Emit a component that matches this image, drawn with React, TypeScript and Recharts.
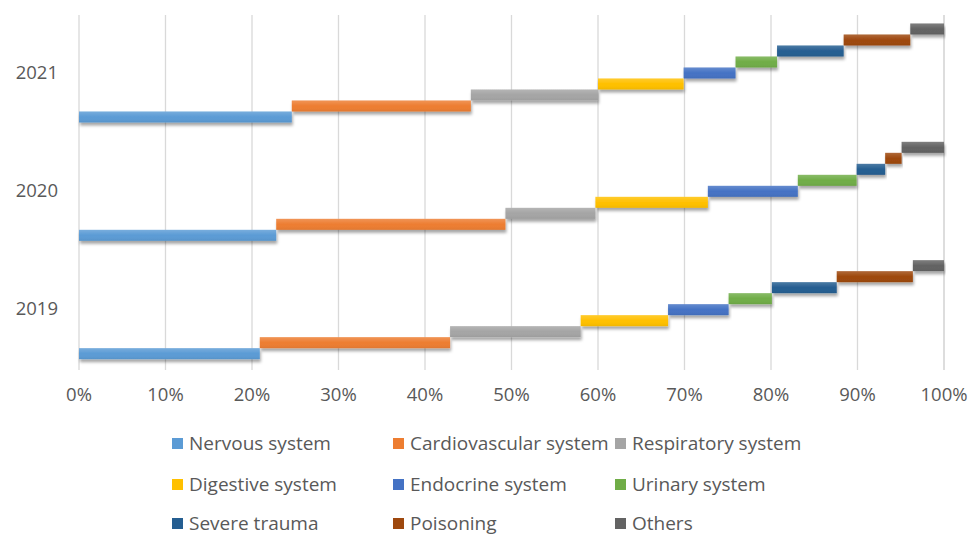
import React from "react";
import { BarChart, Bar, XAxis, YAxis, CartesianGrid } from "recharts";

// years, top to bottom
const years = ["2021", "2020", "2019"];

// share (%) of each system per year, in the same order as years
const nervous = [24.6, 22.8, 20.9];
const cardiovascular = [20.7, 26.5, 22.0];
const respiratory = [14.7, 10.4, 15.1];
const digestive = [9.9, 13.0, 10.1];
const endocrine = [6.0, 10.4, 7.0];
const urinary = [4.8, 6.8, 5.0];
const severeTrauma = [7.7, 3.3, 7.5];
const poisoning = [7.7, 1.9, 8.8];
const others = [3.9, 4.9, 3.6];

const xTicks = [0, 10, 20, 30, 40, 50, 60, 70, 80, 90, 100];

const series = [
  { key: "nervous", name: "Nervous system", values: nervous, color: "#5B9BD5" },
  { key: "cardio", name: "Cardiovascular system", values: cardiovascular, color: "#ED7D31" },
  { key: "resp", name: "Respiratory system", values: respiratory, color: "#A5A5A5" },
  { key: "digest", name: "Digestive system", values: digestive, color: "#FFC000" },
  { key: "endo", name: "Endocrine system", values: endocrine, color: "#4472C4" },
  { key: "urinary", name: "Urinary system", values: urinary, color: "#70AD47" },
  { key: "trauma", name: "Severe trauma", values: severeTrauma, color: "#255E91" },
  { key: "poison", name: "Poisoning", values: poisoning, color: "#9E480E" },
  { key: "others", name: "Others", values: others, color: "#636363" },
];

// each row holds [start, end] ranges so every segment floats after the previous one
const data = years.map((year, i) => {
  const row: any = { year };
  let acc = 0;
  series.forEach((s) => {
    row[s.key] = [acc, acc + s.values[i]];
    acc += s.values[i];
  });
  return row;
});

const FONT = "'Open Sans', Lato, sans-serif";
const TEXT = "#595959";

const ShadowRect = (props: any) => {
  const { x, y, width, height, fill } = props;
  if (width == null || height == null) return null;
  return (
    <g filter="url(#barShadow)">
      <rect x={x} y={y} width={Math.abs(width)} height={height} fill={fill} />
      <rect x={x} y={y} width={Math.abs(width)} height={height} fill="url(#barShine)" />
    </g>
  );
};

const legendCols = [172, 393, 615];
const legendRows = [443, 484, 523];

export default function App() {
  return (
    <div style={{ position: "absolute", left: 0, top: 0, width: 971, height: 535, background: "#fff", fontFamily: FONT, overflow: "hidden" }}>
      <BarChart
        width={971}
        height={420}
        data={data}
        layout="vertical"
        margin={{ top: 15, right: 27, bottom: 0, left: 0 }}
        barCategoryGap={8.5}
        barGap={0}
      >
        <defs>
          <filter id="barShadow" x="-5%" y="-40%" width="110%" height="220%">
            <feDropShadow dx="1" dy="3" stdDeviation="1.8" floodColor="#000" floodOpacity="0.35" />
          </filter>
          <linearGradient id="barShine" x1="0" y1="0" x2="0" y2="1">
            <stop offset="0%" stopColor="#fff" stopOpacity={0.18} />
            <stop offset="50%" stopColor="#fff" stopOpacity={0} />
            <stop offset="100%" stopColor="#000" stopOpacity={0.06} />
          </linearGradient>
        </defs>
        <CartesianGrid horizontal={false} stroke="#d9d9d9" strokeWidth={1.3} />
        <XAxis
          type="number"
          domain={[0, 100]}
          ticks={xTicks}
          tickFormatter={(v) => `${v}%`}
          axisLine={false}
          tickLine={false}
          tickSize={0}
          tickMargin={18}
          height={50}
          interval={0}
          tick={{ fill: TEXT, fontSize: 18.5, fontFamily: FONT }}
        />
        <YAxis
          type="category"
          dataKey="year"
          width={79}
          axisLine={false}
          tickLine={false}
          tickSize={0}
          tickMargin={21}
          tick={{ fill: TEXT, fontSize: 18.5, fontFamily: FONT, dy: -2 }}
        />
        {[...series].reverse().map((s) => (
          <Bar key={s.key} dataKey={s.key} name={s.name} fill={s.color} shape={ShadowRect} isAnimationActive={false} />
        ))}
      </BarChart>
      {series.map((s, i) => {
        const col = i % 3;
        const row = Math.floor(i / 3);
        return (
          <div
            key={s.key}
            style={{
              position: "absolute",
              left: legendCols[col],
              top: legendRows[row] - 11,
              height: 22,
              lineHeight: "22px",
              display: "flex",
              alignItems: "center",
              whiteSpace: "nowrap",
              color: TEXT,
              fontSize: 19,
            }}
          >
            <span style={{ display: "inline-block", width: 11, height: 11, background: s.color, marginRight: 6 }} />
            {s.name}
          </div>
        );
      })}
    </div>
  );
}
